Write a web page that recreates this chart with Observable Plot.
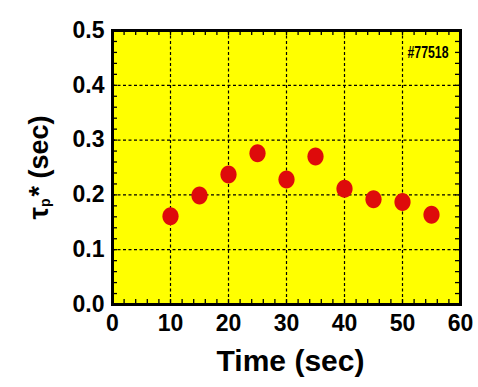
<!DOCTYPE html>
<html><head><meta charset="utf-8">
<script src="https://cdn.jsdelivr.net/npm/d3@7"></script>
<script src="https://cdn.jsdelivr.net/npm/@observablehq/plot@0.6"></script>
<style>body{margin:0;background:#fff}</style>
</head><body><div id="chart"></div>
<script>
const time = [10, 15, 20, 25, 30, 35, 40, 45, 50, 55];
const tau = [0.161, 0.199, 0.237, 0.276, 0.228, 0.270, 0.211, 0.192, 0.187, 0.164];
const xTicks = [0, 10, 20, 30, 40, 50, 60];
const yTicks = [0, 0.1, 0.2, 0.3, 0.4, 0.5];
const xMinorTicks = [2,4,6,8,10,12,14,16,18,20,22,24,26,28,30,32,34,36,38,40,42,44,46,48,50,52,54,56,58];
const yMinorTicks = [0.02,0.04,0.06,0.08,0.1,0.12,0.14,0.16,0.18,0.2,0.22,0.24,0.26,0.28,0.3,0.32,0.34,0.36,0.38,0.4,0.42,0.44,0.46,0.48];
const shotLabel = "#77518";
const xTitle = "Time (sec)";
const yTitleParts = ["τ", "p", "*", " (sec)"];

const W = 478, H = 387, mL = 112, mR = 18, mT = 30, mB = 83;
const innerW = W - mL - mR, innerH = H - mT - mB;
const TL = 5;
const data = time.map((t, i) => ({t, v: tau[i]}));

const ellipse = {
  draw(ctx, size) {
    const r = Math.sqrt(size / Math.PI), rx = r * 0.9, ry = r, k = 0.5523;
    ctx.moveTo(rx, 0);
    ctx.bezierCurveTo(rx, ry * k, rx * k, ry, 0, ry);
    ctx.bezierCurveTo(-rx * k, ry, -rx, ry * k, -rx, 0);
    ctx.bezierCurveTo(-rx, -ry * k, -rx * k, -ry, 0, -ry);
    ctx.bezierCurveTo(rx * k, -ry, rx, -ry * k, rx, 0);
    ctx.closePath();
  }
};

const grid = {stroke: "black", strokeOpacity: 1, strokeWidth: 1.2, strokeDasharray: "3,2.5"};
const tk = {stroke: "black", strokeWidth: 1.3};

const chart = Plot.plot({
  width: W, height: H,
  marginLeft: mL, marginRight: mR, marginTop: mT, marginBottom: mB,
  style: {fontFamily: "'Liberation Sans', Arial, sans-serif", fontWeight: "bold", background: "white", color: "black"},
  x: {domain: [0, 60]},
  y: {domain: [0, 0.5]},
  marks: [
    Plot.frame({fill: "#ffff00"}),
    Plot.ruleX(xTicks.slice(1, -1), {x: d => d, ...grid}),
    Plot.ruleY(yTicks.slice(1, -1), {y: d => d, ...grid}),
    Plot.tickX(xMinorTicks, {x: d => d, insetTop: innerH - TL, ...tk}),
    Plot.tickX(xMinorTicks, {x: d => d, insetBottom: innerH - TL, ...tk}),
    Plot.tickY(yMinorTicks, {y: d => d, insetRight: innerW - TL, ...tk}),
    Plot.tickY(yMinorTicks, {y: d => d, insetLeft: innerW - TL, ...tk}),
    Plot.dot(data, {x: "t", y: "v", r: 9, symbol: ellipse, fill: "#de0b0b", stroke: "none"}),
    Plot.frame({stroke: "black", strokeWidth: 3}),
    Plot.axisX(xTicks, {tickSize: 0, tickPadding: 10, fontSize: 23, label: null}),
    Plot.axisY(yTicks, {tickSize: 0, tickPadding: 8, fontSize: 23, label: null, tickFormat: d3.format(".1f")}),
    Plot.text([xTitle], {frameAnchor: "bottom", dx: 4, dy: 57, fontSize: 30, lineAnchor: "middle"}),
    Plot.text([yTitleParts.join("")], {frameAnchor: "left", dx: -65, rotate: -90, fontSize: 26}),
    Plot.text([shotLabel], {frameAnchor: "top-right", dx: -12, dy: 15, textAnchor: "end", fontSize: 17})
  ]
});
document.getElementById("chart").appendChild(chart);

const svg = d3.select(chart);
svg.selectAll("text").each(function() {
  const el = d3.select(this);
  const txt = this.textContent;
  if (txt === yTitleParts.join("")) {
    el.attr("dy", null).attr("y", null).attr("text-anchor", "middle").text(null);
    el.append("tspan").attr("font-size", 28).text(yTitleParts[0]);
    el.append("tspan").attr("font-size", 14).attr("dy", 2.5).text(yTitleParts[1]);
    el.append("tspan").attr("font-size", 27).attr("dy", -2.5).attr("dx", 2).text(yTitleParts[2]);
    el.append("tspan").attr("font-size", 27).text(yTitleParts[3]);
  } else if (txt === shotLabel) {
    el.attr("textLength", 41).attr("lengthAdjust", "spacingAndGlyphs");
  }
});
</script>
</body></html>
